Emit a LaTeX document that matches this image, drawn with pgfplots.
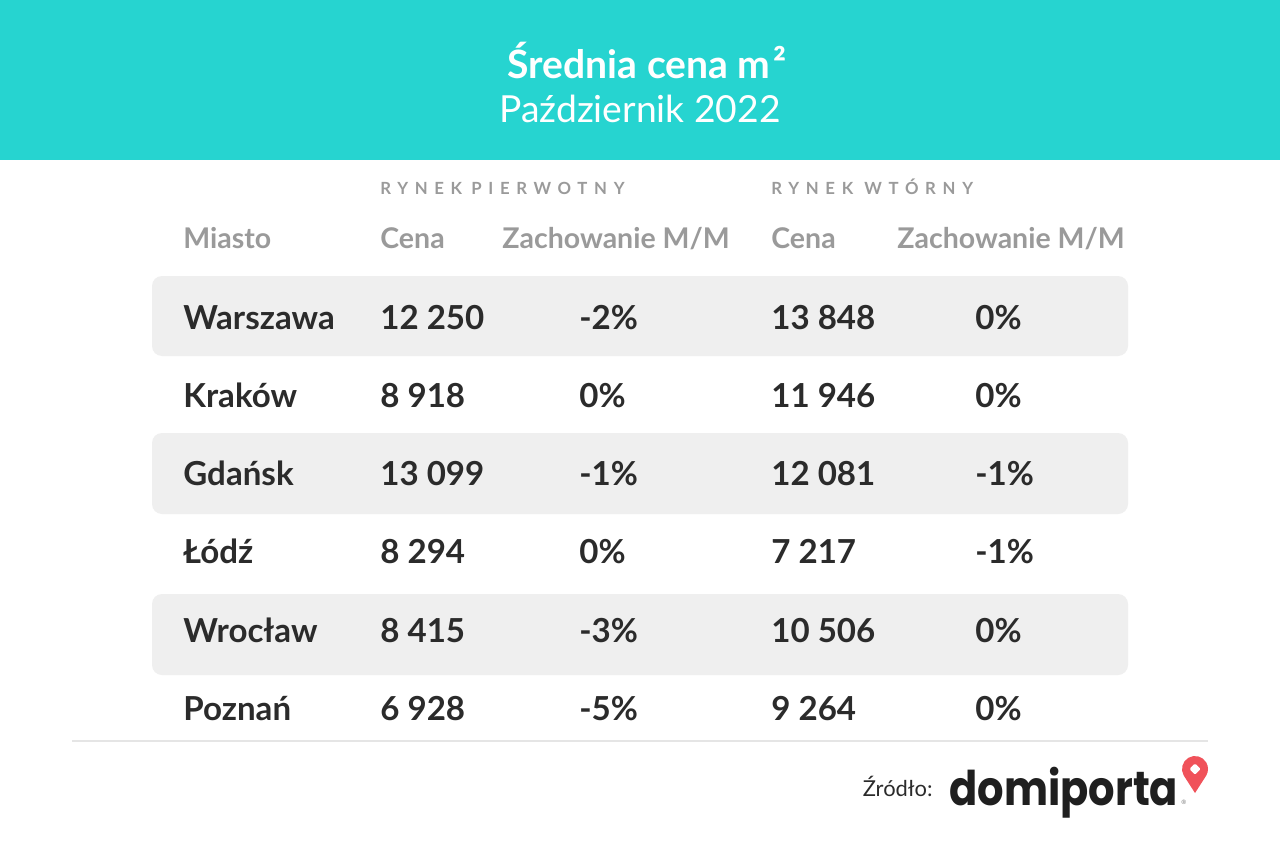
\documentclass[border=0pt]{standalone}
\usepackage{pgfplots}
\usepackage{pgfplotstable}
\pgfplotsset{compat=1.18}
\usepackage{fontspec}
\setmainfont{Lato}
\newfontfamily\logofont{Poppins}
\definecolor{headteal}{HTML}{26D4D0}
\definecolor{rowgray}{HTML}{EFEFEF}
\definecolor{txtdark}{HTML}{2B2B2B}
\definecolor{hdrgray}{HTML}{9A9A9A}
\definecolor{pinred}{HTML}{F0525A}

\pgfplotstableread[col sep=comma]{
city,y,p1,c1,p2,c2
Warszawa,329,12 250,-2,13 848,0
Kraków,407,8 918,0,11 946,0
Gdańsk,485,13 099,-1,12 081,-1
Łódź,563,8 294,0,7 217,-1
Wrocław,642,8 415,-3,10 506,0
Poznań,720,6 928,-5,9 264,0
}\data

\tikzset{
  hdr/.style={text=hdrgray, anchor=base west, inner sep=0pt, font=\fontsize{14.3}{16}\selectfont\bfseries},
  grp/.style={text=hdrgray, anchor=base west, inner sep=0pt, font=\fontsize{8.4}{10}\selectfont\bfseries\addfontfeature{LetterSpace=40}}}
\pgfplotsset{
  cell/.style={only marks, mark=none, draw=none, point meta=explicit symbolic,
    nodes near coords style={anchor=base west, inner sep=0pt, text=txtdark,
      font=\fontsize{16.6}{19}\selectfont\bfseries}}}

\begin{document}
\begin{tikzpicture}
\begin{axis}[hide axis, scale only axis, width=640bp, height=426.5bp,
  xmin=0, xmax=1280, ymin=0, ymax=853, y dir=reverse, clip=false]
\fill[white] (axis cs:0,0) rectangle (axis cs:1280,853);
\fill[headteal] (axis cs:0,0) rectangle (axis cs:1280,160);
\node[text=white, font=\fontsize{19.6}{22}\selectfont\bfseries, anchor=base] at (axis cs:647,79) {Średnia cena m\kern1.5pt²};
\node[text=white, font=\fontsize{18.7}{21}\selectfont, anchor=base] at (axis cs:640,123) {Październik 2022};
% row backgrounds
\fill[rowgray, rounded corners=5bp] (axis cs:152,276) rectangle (axis cs:1128,356);
\fill[rowgray, rounded corners=5bp] (axis cs:152,433) rectangle (axis cs:1128,514);
\fill[rowgray, rounded corners=5bp] (axis cs:152,594) rectangle (axis cs:1128,675);
% group headers
\node[grp] at (axis cs:380,194) {RYNEK};
\node[grp] at (axis cs:471,194) {PIERWOTNY};
\node[grp] at (axis cs:771,194) {RYNEK};
\node[grp] at (axis cs:864,194) {WTÓRNY};
% column headers
\node[hdr] at (axis cs:183,248) {Miasto};
\node[hdr] at (axis cs:380,248) {Cena};
\node[hdr] at (axis cs:502,248) {Zachowanie M/M};
\node[hdr] at (axis cs:771,248) {Cena};
\node[hdr] at (axis cs:897,248) {Zachowanie M/M};
% data
\addplot[cell, nodes near coords={\pgfplotspointmeta}] table[x expr=183, y=y, meta=city] {\data};
\addplot[cell, nodes near coords={\pgfplotspointmeta}] table[x expr=380, y=y, meta=p1] {\data};
\addplot[cell, nodes near coords={\pgfplotspointmeta\%}] table[x expr=579, y=y, meta=c1] {\data};
\addplot[cell, nodes near coords={\pgfplotspointmeta}] table[x expr=771, y=y, meta=p2] {\data};
\addplot[cell, nodes near coords={\pgfplotspointmeta\%}] table[x expr=975, y=y, meta=c2] {\data};
% separator
\draw[black!10, line width=0.6bp] (axis cs:72,741) -- (axis cs:1208,741);
% source
\node[text=txtdark, anchor=base east, inner sep=0pt, font=\fontsize{11}{13}\selectfont] at (axis cs:933,796) {Źródło:};
\node[text=black!88, anchor=base west, inner sep=0pt, font=\logofont\fontsize{24}{26}\selectfont\bfseries] at (axis cs:949,805) {\scalebox{0.87}[1]{domiporta}};
\node[text=black!55, anchor=base west, inner sep=0pt, font=\fontsize{3}{4}\selectfont] at (axis cs:1181,804) {®};
\begin{scope}[shift={(axis cs:1195,769)}]
\fill[pinred] (0,-12bp) -- (210:6.5bp) arc[start angle=210, end angle=-30, radius=6.5bp] -- cycle;
\fill[white, rounded corners=0.6bp] (0,2.8bp) -- (2.8bp,0) -- (0,-2.8bp) -- (-2.8bp,0) -- cycle;
\end{scope}
\end{axis}
\end{tikzpicture}
\end{document}
